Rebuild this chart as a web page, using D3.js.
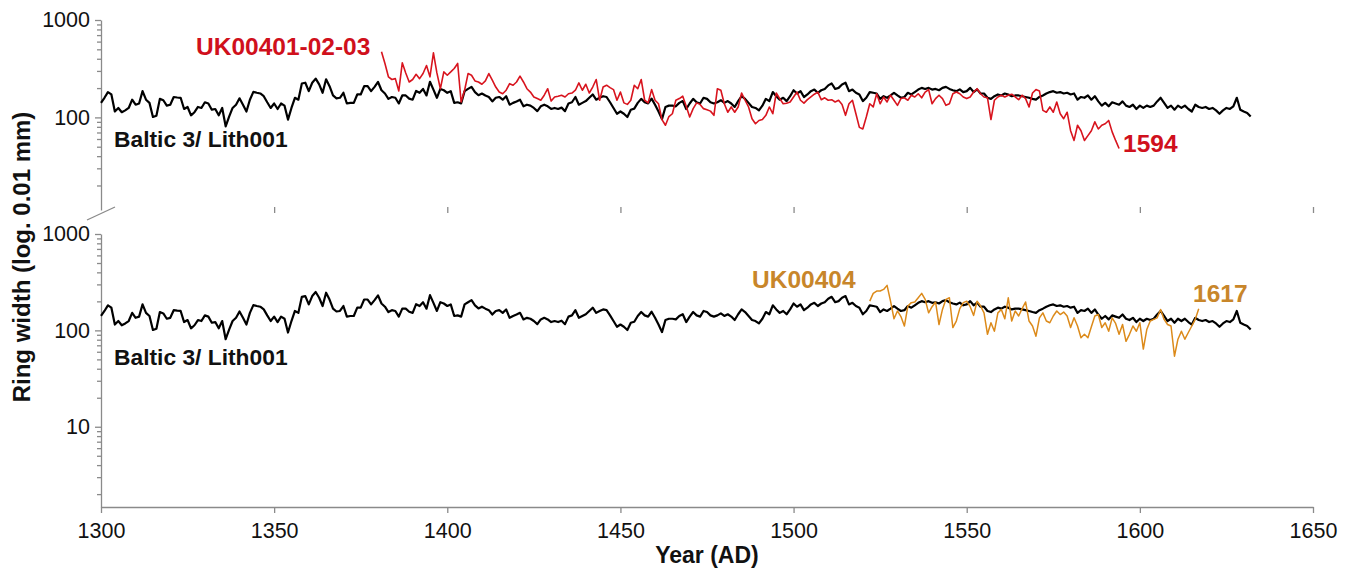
<!DOCTYPE html>
<html>
<head>
<meta charset="utf-8">
<script src="https://cdn.jsdelivr.net/npm/d3@7"></script>
<style>
  body { margin: 0; background: #fff; }
  svg { display: block; }
  text { font-family: "Liberation Sans", Arial, sans-serif; }
</style>
</head>
<body>
<div id="chart"></div>
<script>
// ring widths (0.01 mm), one value per year
const balticStart = 1300;
const baltic = [
  141,159,182,172,115,125,113,118,125,152,
  135,139,186,152,141,101,104,155,150,132,
  135,162,160,159,122,128,105,113,128,125,
  143,139,120,122,105,125,81,102,125,135,
  157,135,115,152,183,179,176,165,143,125,
  139,122,139,132,95,125,159,152,223,227,
  186,227,250,218,179,246,209,168,157,159,
  179,139,141,141,172,172,209,209,186,206,
  231,190,176,
  155,162,159,139,168,168,156,152,187,179,
  196,168,232,193,159,196,190,179,186,141,
  143,139,186,196,206,182,169,176,168,162,
  146,159,162,152,165,135,141,146,152,130,
  135,132,125,116,130,135,130,122,125,122,
  126,116,139,143,162,135,141,147,159,172,
  152,159,165,162,143,125,109,115,109,101,
  120,123,141,155,143,139,156,135,115,96,
  128,132,132,
  130,141,147,122,139,155,143,139,159,155,
  143,139,143,150,141,147,139,128,147,165,
  155,141,128,125,118,132,155,147,182,165,
  152,159,147,165,190,176,186,162,172,186,
  193,179,190,196,213,223,196,201,218,227,
  186,193,179,172,147,159,182,179,176,155,
  165,159,168,179,168,159,162,179,172,182,
  193,201,196,201,193,196,190,201,206,196,
  190,
  186,194,182,186,201,182,194,176,176,159,
  155,165,172,168,176,172,165,168,168,165,
  162,159,155,152,162,168,176,182,186,179,
  182,176,179,172,176,152,162,159,168,152,
  165,146,132,141,130,143,139,135,146,132,
  128,135,122,132,125,132,128,132,146,159,
  141,125,132,120,132,125,132,122,115,135,
  128,125,128,122,125,118,109,118,125,122,
  130,159,120,115,111,102
];

const redStart = 1381; // UK00401-02-03, ends 1594
const red = [
  472,358,261,245,250,187,363,286,231,245,
  277,250,282,341,261,460,286,197,293,271,
  293,318,358,144,190,282,271,237,231,219,
  237,282,241,205,182,175,190,222,214,231,
  265,231,197,182,162,156,150,169,197,147,
  162,165,169,162,175,178,190,226,190,219,
  178,205,245,150,205,214,202,193,150,182,
  141,136,150,214,197,245,150,141,193,150,
  138,95,83,102,109,150,156,165,130,101,
  123,141,136,
  123,120,116,105,197,190,138,113,128,113,
  128,178,150,128,97,86,93,95,105,128,
  109,178,156,138,140,144,162,182,150,140,
  152,162,173,182,152,159,150,152,144,150,
  136,105,138,150,109,79,76,101,138,128,
  175,138,162,144,169,150,133,156,159,150,
  169,162,175,159,182,193,138,156,169,156,
  133,138,175,182,175,162,156,162,182,197,
  175,162,159,95,150,162,169,162,169,173,
  162,152,169,156,128,178,193,187,118,113,
  128,113,144,109,97,113,73,58,83,73,
  58,65,73,90,76,83,86,93,71,58,
  48
];

const orangeStart = 1522; // UK00404, ends 1617
const orange = [
  201,242,256,256,266,293,201,132,159,139,
  111,179,194,197,218,242,210,152,176,197,
  115,165,210,218,107,
  125,168,194,201,176,143,201,179,152,91,
  120,98,152,165,132,218,125,159,141,168,
  197,125,111,87,135,152,125,120,141,159,
  146,155,141,107,135,111,84,91,84,109,
  141,146,107,120,98,135,118,91,115,77,
  91,111,98,120,64,102,125,130,135,165,
  130,115,111,54,81,98,81,95,111,130,
  168
];

const yearTicks = [1300, 1350, 1400, 1450, 1500, 1550, 1600, 1650];
const topLabels = [100, 1000];
const bottomLabels = [10, 100, 1000];

const W = 1353, H = 571;
const axisColor = "#8a8a8a";
const redColor = "#d8141e";
const orangeColor = "#dc8a1a";

const svg = d3.select("#chart").append("svg")
  .attr("width", W).attr("height", H);

const x = d3.scaleLinear().domain([1300, 1650]).range([101, 1313]);
const yTop = d3.scaleLog().domain([11.2, 1000]).range([210, 20]);
const yBot = d3.scaleLog().domain([1.47, 1000]).range([507, 234]);

const toPts = (start, vals) => vals.map((v, i) => ({ year: start + i, v: v }));

function minorTicks(scale) {
  const [lo, hi] = scale.domain();
  const out = [];
  for (let dec = 1; dec < 1000; dec *= 10) {
    for (let m = 2; m <= 9; m++) {
      const v = m * dec;
      if (v >= lo && v <= hi) out.push(v);
    }
  }
  return out;
}

function styleAxis(g) {
  g.selectAll("path, line").attr("stroke", axisColor).attr("stroke-width", 1.3);
  g.selectAll("text").attr("fill", "#111").style("font-size", "21.5px")
    .style("font-family", '"Liberation Sans", Arial, sans-serif');
}

// left axes
function leftAxis(scale, labels) {
  svg.append("g")
    .attr("transform", "translate(101,0)")
    .call(d3.axisLeft(scale).tickValues(minorTicks(scale)).tickSize(4).tickFormat("").tickSizeOuter(0))
    .call(styleAxis);
  svg.append("g")
    .attr("transform", "translate(101,0)")
    .call(d3.axisLeft(scale).tickValues(labels).tickSize(6).tickPadding(5)
      .tickFormat(d3.format("d")).tickSizeOuter(0))
    .call(g => g.select(".domain").remove())
    .call(styleAxis);
}
leftAxis(yTop, topLabels);
leftAxis(yBot, bottomLabels);

// bottom x axis
svg.append("g")
  .attr("transform", "translate(0,507)")
  .call(d3.axisBottom(x).tickValues(yearTicks).tickSize(6).tickPadding(10)
    .tickFormat(d3.format("d")).tickSizeOuter(0))
  .call(styleAxis);

// break axis between the panels: ticks only
svg.append("g")
  .attr("transform", "translate(0,207)")
  .call(d3.axisBottom(x).tickValues(yearTicks.slice(1)).tickSize(6).tickFormat("").tickSizeOuter(0))
  .call(g => g.select(".domain").remove())
  .call(styleAxis);

// break mark
svg.append("line")
  .attr("x1", 87).attr("y1", 220).attr("x2", 115).attr("y2", 207)
  .attr("stroke", axisColor).attr("stroke-width", 1.3);

// series
function drawLine(scale, start, vals, color, width) {
  const line = d3.line().x(d => x(d.year)).y(d => scale(d.v));
  svg.append("path")
    .datum(toPts(start, vals))
    .attr("d", line)
    .attr("fill", "none")
    .attr("stroke", color)
    .attr("stroke-width", width)
    .attr("stroke-linejoin", "round");
}
drawLine(yTop, balticStart, baltic, "#000", 2.2);
drawLine(yTop, redStart, red, redColor, 1.6);
drawLine(yBot, balticStart, baltic, "#000", 2.2);
drawLine(yBot, orangeStart, orange, orangeColor, 1.5);

// labels
function label(txt, px, py, color, size) {
  svg.append("text").attr("x", px).attr("y", py).text(txt)
    .attr("fill", color).style("font-weight", "bold").style("font-size", size + "px");
}
label("UK00401-02-03", 196, 55, "#d0101c", 24.5);
label("1594", 1123, 152, "#d0101c", 24.5);
label("Baltic 3/ Lith001", 114, 146.5, "#111", 22.8);
label("Baltic 3/ Lith001", 114, 365, "#111", 22.8);
label("UK00404", 752, 288, "#c8862a", 24.5);
label("1617", 1193, 301.5, "#c8862a", 24.5);

// axis titles
svg.append("text")
  .attr("transform", "translate(30,257) rotate(-90)")
  .attr("text-anchor", "middle")
  .style("font-weight", "bold").style("font-size", "24px").attr("fill", "#111")
  .text("Ring width (log. 0.01 mm)");

svg.append("text")
  .attr("x", 707).attr("y", 563)
  .attr("text-anchor", "middle")
  .style("font-weight", "bold").style("font-size", "23px").attr("fill", "#111")
  .text("Year (AD)");
</script>
</body>
</html>
